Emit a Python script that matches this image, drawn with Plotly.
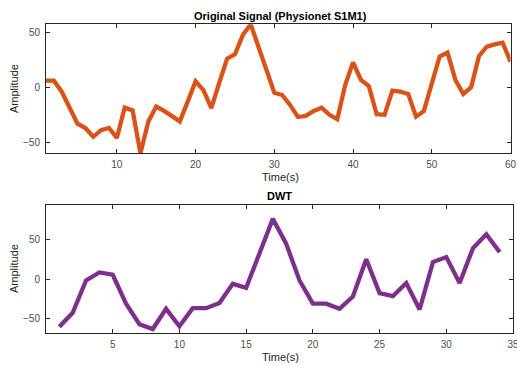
import plotly.graph_objects as go

# ---- data ----
t_orig = list(range(1, 61))
sig_orig = [6, 6, -4, -18, -33, -37, -45, -39, -37, -46,
            -18.5, -21, -60, -31, -17.5, -21.5, -26.5, -31, -13, 5.5,
            -2.5, -19, 4, 26, 30, 47.5, 57.3, 37, 17, -5,
            -7, -16, -27, -26, -21.5, -18.5, -25, -29, 2, 22.7,
            6.7, 1.2, -24.5, -25, -3, -4, -6, -26.7, -21.5, 3.6,
            28, 31.5, 6.7, -6, 0, 28.5, 37, 39, 40.6, 23.3]
t_dwt = list(range(1, 35))
sig_dwt = [-60, -42.6, -1.7, 8.4, 5.5, -31, -57, -63, -37.5, -59.5,
           -36.7, -36.7, -30, -6, -11, 32, 76, 44.7, -1.7, -31,
           -31, -37.5, -22, 25, -17.7, -21.5, -5, -38.4, 21.5, 27.8,
           -5, 39, 56.5, 34]
top_xticks = [10, 20, 30, 40, 50, 60]
bot_xticks = [5, 10, 15, 20, 25, 30, 35]
yticks = [-50, 0, 50]

W, H = 517, 366
FONT = "Liberation Sans, Arial, sans-serif"
AX = "#262626"
TICKC = "#4d4d4d"

fig = go.Figure()
fig.add_trace(go.Scatter(x=t_orig, y=sig_orig, mode="lines",
                         line=dict(color="#D95319", width=4.3),
                         xaxis="x", yaxis="y", showlegend=False))
fig.add_trace(go.Scatter(x=t_dwt, y=sig_dwt, mode="lines",
                         line=dict(color="#7E2F8E", width=4.3),
                         xaxis="x2", yaxis="y2", showlegend=False))

def px_x(p):
    return p / W

def px_y(p):
    return 1 - p / H

common = dict(showgrid=False, zeroline=False, showline=True, linecolor=AX,
              linewidth=1, mirror="allticks", ticks="inside", ticklen=4,
              tickcolor=AX, tickwidth=1, automargin=False,
              tickfont=dict(family=FONT, size=10, color=TICKC))

fig.update_layout(
    width=W, height=H,
    margin=dict(l=0, r=0, t=0, b=0, autoexpand=False),
    paper_bgcolor="white", plot_bgcolor="white",
    xaxis=dict(domain=[px_x(46), px_x(510.5)], range=[1, 60],
               tickvals=top_xticks, anchor="y", ticklabelstandoff=2,
               ticklabeloverflow="allow", **common),
    yaxis=dict(domain=[px_y(153.3), px_y(24.3)], range=[-60, 57.3],
               tickvals=yticks, anchor="x", ticklabelstandoff=3, **common),
    xaxis2=dict(domain=[px_x(46), px_x(513)], range=[0, 35],
                tickvals=bot_xticks, anchor="y2", ticklabelstandoff=2,
                ticklabeloverflow="allow", **common),
    yaxis2=dict(domain=[px_y(333), px_y(205)], range=[-68, 93.5],
                tickvals=yticks, anchor="x2", ticklabelstandoff=3, **common),
    font=dict(family=FONT),
)

ann = [
    dict(text="<b>Original Signal (Physionet S1M1)</b>", x=px_x(280), y=px_y(16),
         size=11, color="#000000", angle=0),
    dict(text="<b>DWT</b>", x=px_x(279), y=px_y(196), size=11, color="#000000", angle=0),
    dict(text="Time(s)", x=px_x(280), y=px_y(177), size=11, color="#262626", angle=0),
    dict(text="Time(s)", x=px_x(280), y=px_y(357), size=11, color="#262626", angle=0),
    dict(text="Amplitude", x=px_x(14), y=px_y(89), size=11, color="#262626", angle=-90),
    dict(text="Amplitude", x=px_x(14), y=px_y(269), size=11, color="#262626", angle=-90),
]
for a in ann:
    fig.add_annotation(text=a["text"], x=a["x"], y=a["y"], xref="paper", yref="paper",
                       showarrow=False, xanchor="center", yanchor="middle",
                       textangle=a["angle"],
                       font=dict(family=FONT, size=a["size"], color=a["color"]))

fig.write_html("out.html")
